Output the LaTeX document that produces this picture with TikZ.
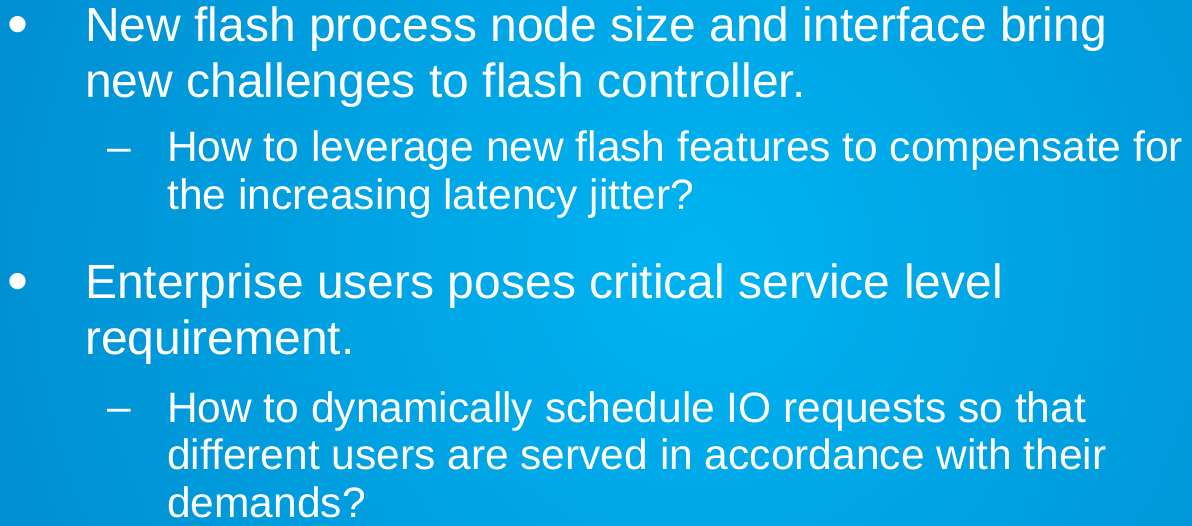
\documentclass[tikz,border=0pt]{standalone}
\usepackage{fontspec}
\setmainfont{Liberation Sans}
\definecolor{bgin}{RGB}{0,180,242}
\definecolor{bgout}{RGB}{0,100,172}
\begin{document}
\begin{tikzpicture}[x=1pt,y=-1pt,
    lvlone/.style={anchor=base west,inner sep=0pt,text=white,align=left,font=\fontsize{48}{56}\selectfont},
    lvltwo/.style={anchor=base west,inner sep=0pt,text=white,align=left,font=\fontsize{42.5}{48}\selectfont},
    dot/.style={anchor=base west,inner sep=0pt,text=white,font=\fontsize{60}{60}\selectfont}]
    \useasboundingbox (0,0) rectangle (1192,526);
    \clip (0,0) rectangle (1192,526);
    \shade [inner color=bgin,outer color=bgout] (700,260) circle (1600);
    % first point (base anchor sits on the last line)
    \node [dot] (bulleta) at (7,45) {•};
    \node [lvlone] (pointa) at (85,98) {New flash process node size and interface bring\\new challenges to flash controller.};
    \node [lvltwo] (dasha) at (107,162) {–};
    \node [lvltwo] (subpointa) at (167,210) {How to leverage new flash features to compensate for\\the increasing latency jitter?};
    % second point
    \node [dot] (bulletb) at (7,302) {•};
    \node [lvlone] (pointb) at (85,355) {Enterprise users poses critical service level\\requirement.};
    \node [lvltwo] (dashb) at (107,422) {–};
    \node [lvltwo] (subpointb) at (167,518) {How to dynamically schedule IO requests so that\\different users are served in accordance with their\\demands?};
\end{tikzpicture}
\end{document}
